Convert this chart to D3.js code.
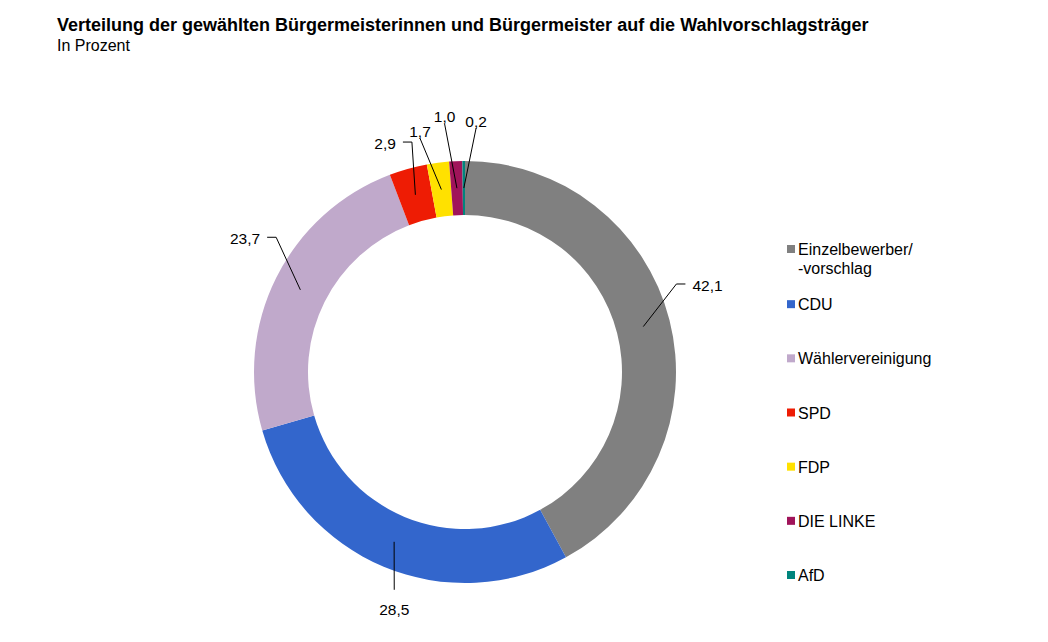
<!DOCTYPE html>
<html><head><meta charset="utf-8">
<script src="https://cdn.jsdelivr.net/npm/d3@7"></script>
<style>body{margin:0;background:#fff}svg{display:block}text{font-family:"Liberation Sans",Arial,sans-serif;fill:#000}</style>
</head><body>
<script>
const categories = ["Einzelbewerber/\n-vorschlag","CDU","Wählervereinigung","SPD","FDP","DIE LINKE","AfD"];
const values = [42.1, 28.5, 23.7, 2.9, 1.7, 1.0, 0.2];
const valueLabels = ["42,1","28,5","23,7","2,9","1,7","1,0","0,2"];
const colors = ["#808080","#3366cc","#c0a9cb","#ee1c04","#ffe100","#a0145a","#00857d"];
// label elbow placement (polar: degrees clockwise from top, radius) and side
const labelLayout = [
  {a:67.4, r:229, side:"right"},
  {a:198, r:229, side:"below"},
  {a:305.5, r:232, side:"left"},
  {a:347, r:236, side:"left"},
  {a:349.1, r:238, side:"above"},
  {a:355.3, r:249, side:"above"},
  {a:2.6, r:244, side:"above"}
];

const W=1048,H=642, cx=465, cy=372, R=211, r0=157;
const svg=d3.select("body").append("svg").attr("width",W).attr("height",H);
svg.append("text").attr("x",57).attr("y",31).attr("font-size",18).attr("font-weight","bold")
  .text("Verteilung der gewählten Bürgermeisterinnen und Bürgermeister auf die Wahlvorschlagsträger");
svg.append("text").attr("x",57).attr("y",51).attr("font-size",16).text("In Prozent");

const data=categories.map((c,i)=>({c,v:values[i],lab:valueLabels[i],col:colors[i],lay:labelLayout[i]}));
const pie=d3.pie().value(d=>d.v).sort(null);
const arc=d3.arc().innerRadius(r0).outerRadius(R);
const g=svg.append("g").attr("transform",`translate(${cx},${cy})`);
const arcs=pie(data);
g.selectAll("path.s").data(arcs).join("path").attr("class","s").attr("d",arc).attr("fill",d=>d.data.col);

const pol=(a,r)=>[r*Math.sin(a*Math.PI/180), -r*Math.cos(a*Math.PI/180)];
arcs.forEach(d=>{
  const c=arc.centroid(d);
  const L=d.data.lay, e=pol(L.a,L.r);
  let pts=[c,e], tx, ty, anchor;
  if(L.side==="right"){pts.push([e[0]+9,e[1]]); tx=e[0]+16; ty=e[1]+1; anchor="start";}
  else if(L.side==="left"){pts.push([e[0]-9,e[1]]); tx=e[0]-16; ty=e[1]+1; anchor="end";}
  else if(L.side==="below"){tx=e[0]; ty=e[1]+20; anchor="middle";}
  else {tx=e[0]; ty=e[1]-7; anchor="middle";}
  g.append("path").attr("d",d3.line()(pts)).attr("fill","none").attr("stroke","#000").attr("stroke-width",1);
  g.append("text").attr("x",tx).attr("y",ty).attr("text-anchor",anchor).attr("dominant-baseline","central")
    .attr("font-size",15.5).text(d.data.lab);
});

const legY=d3.scalePoint().domain(d3.range(categories.length)).range([250,575]);
const leg=svg.append("g");
data.forEach((d,i)=>{
  let y=legY(i); if(i===0) y-=1;
  leg.append("rect").attr("x",787).attr("y",y-4).attr("width",8).attr("height",8).attr("fill",d.col);
  const t=leg.append("text").attr("x",798).attr("y",y).attr("dominant-baseline","central").attr("font-size",16);
  d.c.split("\n").forEach((s,j)=>t.append("tspan").attr("x",798).attr("dy",j?19:0).text(s));
});
</script>
</body></html>
